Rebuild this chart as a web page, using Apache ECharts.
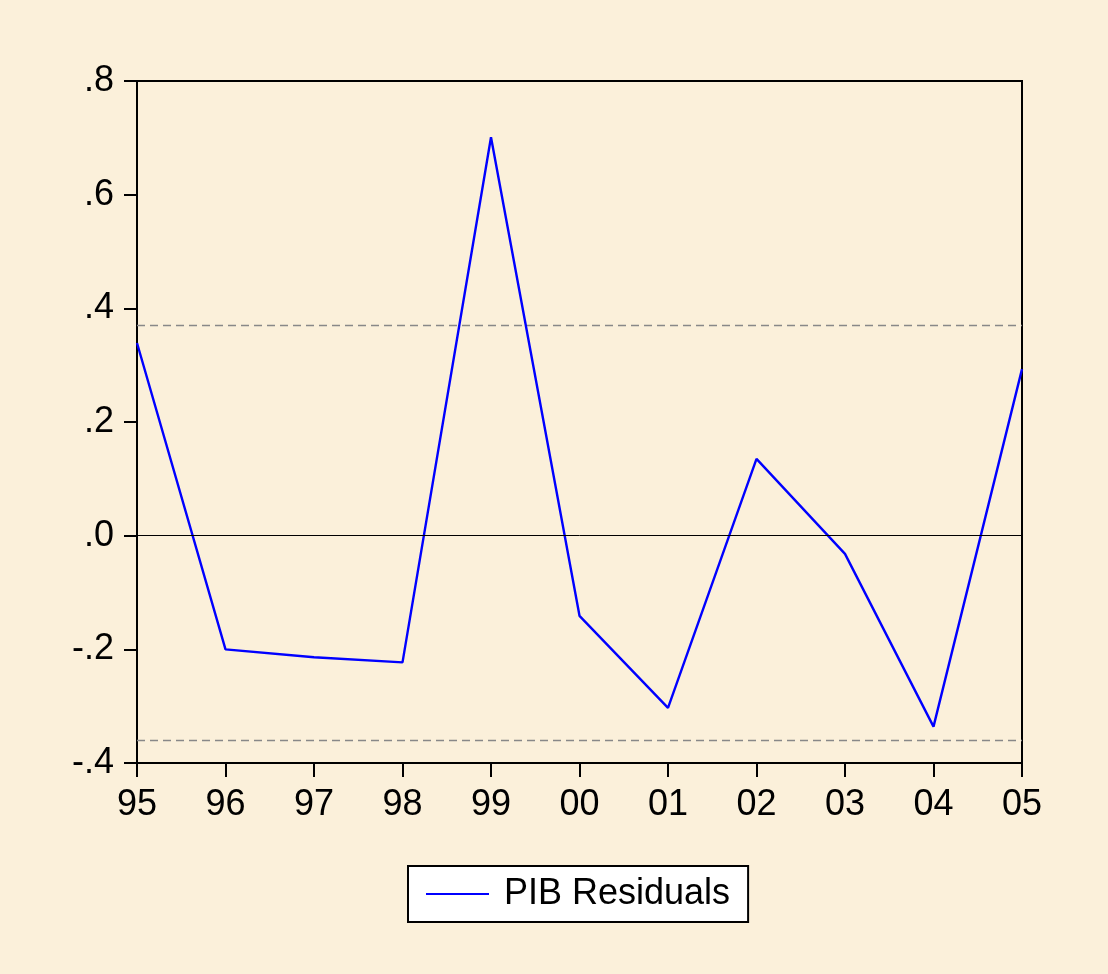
<!DOCTYPE html>
<html>
<head>
<meta charset="utf-8">
<script src="https://cdn.jsdelivr.net/npm/echarts@6/dist/echarts.min.js"></script>
<style>
html, body { margin: 0; padding: 0; background: #fff; }
#chart { width: 1108px; height: 974px; }
</style>
</head>
<body>
<div id="chart"></div>
<script>
// years on the x axis
const years = ['95', '96', '97', '98', '99', '00', '01', '02', '03', '04', '05']
// PIB residuals
const residuals = [0.339, -0.200, -0.214, -0.223, 0.701, -0.141, -0.303, 0.135, -0.032, -0.336, 0.293]
// +/- band (dashed lines)
const bandUpper = 0.367
const bandLower = -0.363
const yTicks = { '0.8': '.8', '0.6': '.6', '0.4': '.4', '0.2': '.2', '0': '.0', '-0.2': '-.2', '-0.4': '-.4' }

const font = 'Liberation Sans, Arial, sans-serif'

const chart = echarts.init(document.getElementById('chart'), null, { renderer: 'canvas' })

const option = {
	backgroundColor: '#FBF0DA',
	animation: false,
	grid: {
		left: 137,
		top: 81,
		right: 86,
		bottom: 211,
		show: true,
		borderColor: '#000',
		borderWidth: 2,
		backgroundColor: 'transparent',
	},
	legend: {
		left: 408,
		top: 866,
		backgroundColor: '#fff',
		borderColor: '#000',
		borderWidth: 2,
		borderRadius: 0,
		padding: [10, 18, 10, 18],
		itemWidth: 63,
		itemHeight: 2,
		icon: 'rect',
		textStyle: {
			fontFamily: font,
			fontSize: 36,
			color: '#000',
			padding: [0, 0, 0, 10],
		},
		data: ['PIB Residuals'],
	},
	xAxis: {
		type: 'category',
		data: years,
		boundaryGap: false,
		axisLine: { onZero: false, lineStyle: { color: '#000', width: 2 } },
		axisTick: { show: true, length: 14, inside: false, lineStyle: { color: '#000', width: 2 } },
		axisLabel: { fontFamily: font, fontSize: 36, color: '#000', margin: 24 },
		splitLine: { show: false },
	},
	yAxis: {
		type: 'value',
		min: -0.4,
		max: 0.8,
		interval: 0.2,
		axisLine: { show: true, lineStyle: { color: '#000', width: 2 } },
		axisTick: { show: true, length: 13, lineStyle: { color: '#000', width: 2 } },
		axisLabel: {
			fontFamily: font,
			fontSize: 36,
			color: '#000',
			margin: 23,
			formatter: (v) => yTicks[String(Math.round(v * 10) / 10)] ?? '',
		},
		splitLine: { show: false },
	},
	series: [
		{
			name: 'PIB Residuals',
			type: 'line',
			data: residuals,
			symbol: 'none',
			lineStyle: { color: '#0000FF', width: 2.4 },
			itemStyle: { color: '#0000FF' },
			markLine: {
				silent: true,
				symbol: ['none', 'none'],
				label: { show: false },
				data: [
					{ yAxis: 0, lineStyle: { color: '#000', width: 1, type: 'solid' } },
					{ yAxis: bandUpper, lineStyle: { color: '#888', width: 1.3, type: [8, 5] } },
					{ yAxis: bandLower, lineStyle: { color: '#888', width: 1.3, type: [8, 5] } },
				],
			},
		},
	],
}

chart.setOption(option)
</script>
</body>
</html>
